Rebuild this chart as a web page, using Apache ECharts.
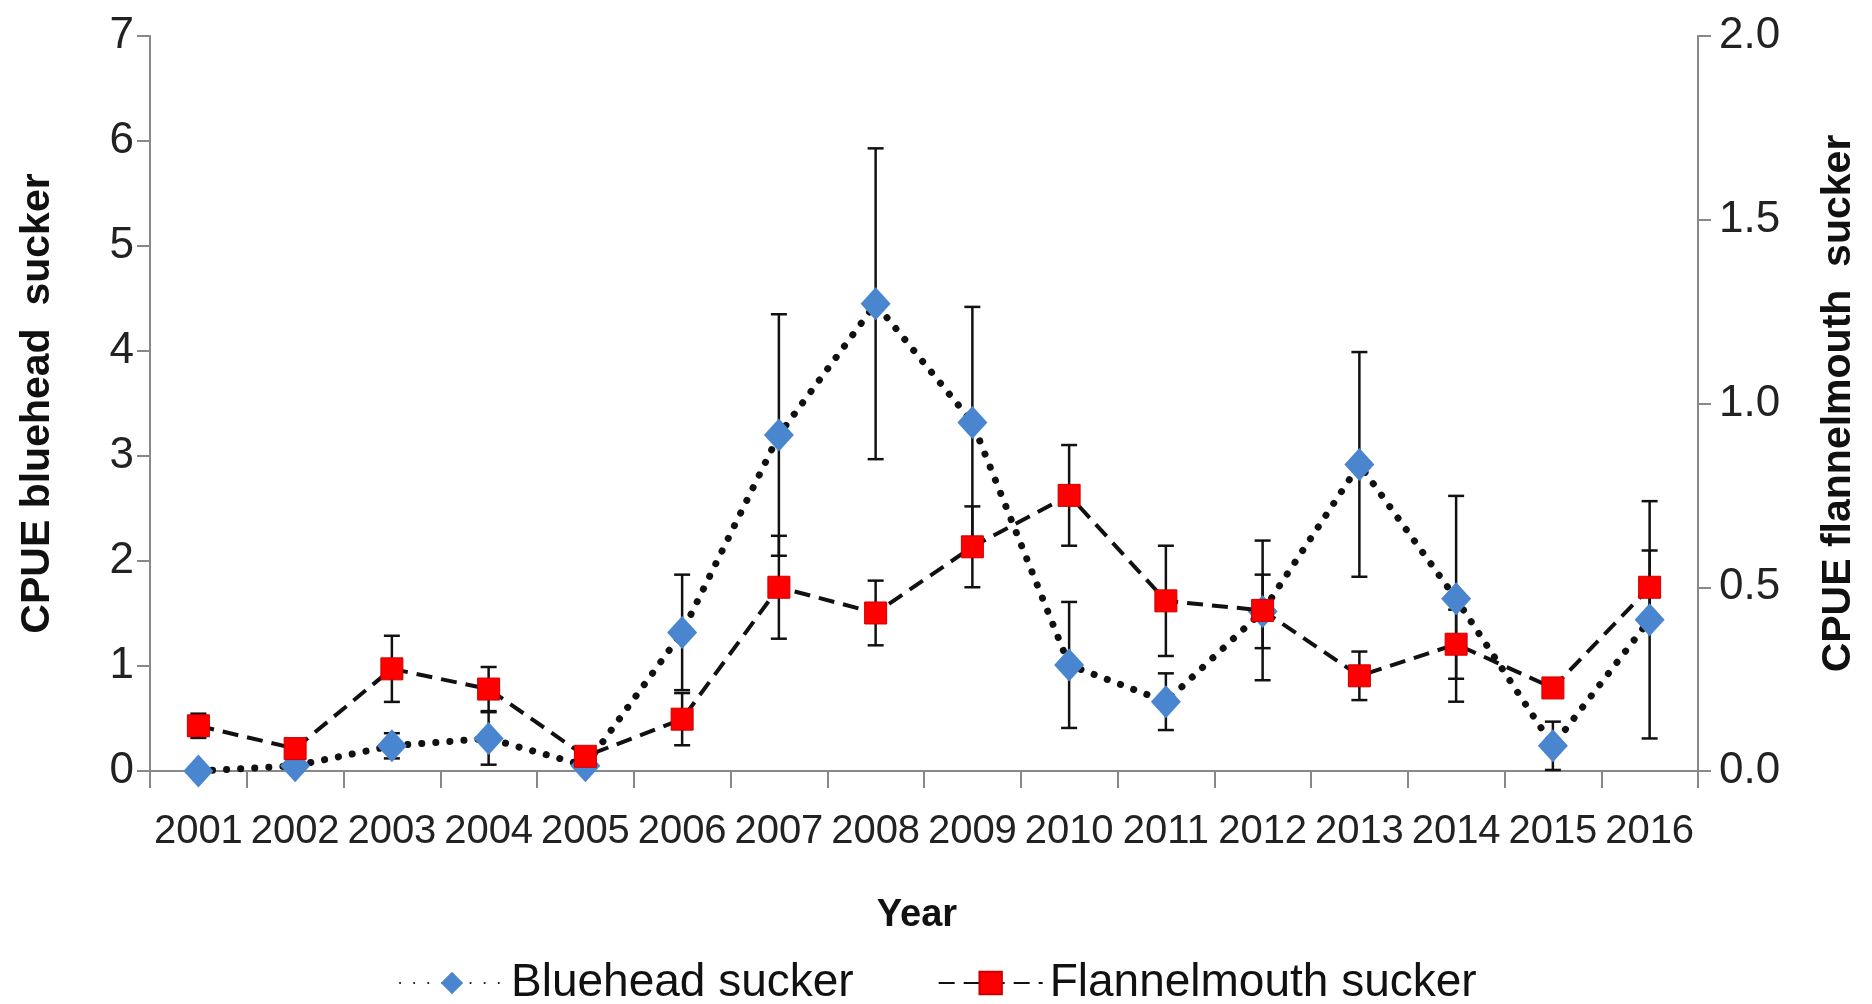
<!DOCTYPE html>
<html>
<head>
<meta charset="utf-8">
<script src="https://cdn.jsdelivr.net/npm/echarts@6/dist/echarts.min.js"></script>
<style>
html,body{margin:0;padding:0;background:#fff;}
#chart{width:1872px;height:1004px;}
</style>
</head>
<body>
<div id="chart"></div>
<script>
const years = ['2001','2002','2003','2004','2005','2006','2007','2008','2009','2010','2011','2012','2013','2014','2015','2016'];
const blueheadCPUE = [0.0, 0.05, 0.24, 0.31, 0.05, 1.32, 3.20, 4.45, 3.32, 1.01, 0.66, 1.52, 2.92, 1.64, 0.24, 1.44];
const blueheadErr  = [0, 0, 0.12, 0.25, 0, 0.55, 1.15, 1.48, 1.10, 0.60, 0.27, 0.35, 1.07, 0.98, 0.23, 1.13];
const flannelCPUE  = [0.123, 0.061, 0.278, 0.223, 0.04, 0.141, 0.50, 0.43, 0.61, 0.75, 0.463, 0.437, 0.259, 0.345, 0.226, 0.50];
const flannelErr   = [0.033, 0, 0.09, 0.06, 0, 0.071, 0.14, 0.088, 0.11, 0.137, 0.15, 0.19, 0.066, 0.094, 0, 0.10];
const leftTicks = {min: 0, max: 7, interval: 1};
const rightTicks = {min: 0, max: 2, interval: 0.5};

const sans = "'Liberation Sans',Arial,sans-serif";

function errData(vals, errs) {
  return vals.map((v, i) => [i, v, errs[i]]);
}
function errRender(params, api) {
  const err = api.value(2);
  if (!err) return null;
  const i = api.value(0), v = api.value(1);
  const top = api.coord([i, v + err]);
  const bot = api.coord([i, Math.max(0, v - err)]);
  const hw = 8;
  const st = {stroke: '#111', lineWidth: 2.5};
  return {
    type: 'group',
    children: [
      {type: 'line', shape: {x1: top[0], y1: top[1], x2: bot[0], y2: bot[1]}, style: st},
      {type: 'line', shape: {x1: top[0]-hw, y1: top[1], x2: top[0]+hw, y2: top[1]}, style: st},
      {type: 'line', shape: {x1: bot[0]-hw, y1: bot[1], x2: bot[0]+hw, y2: bot[1]}, style: st}
    ]
  };
}

const chart = echarts.init(document.getElementById('chart'), null, {renderer: 'canvas'});
chart.setOption({
  animation: false,
  backgroundColor: '#fff',
  grid: {left: 150, right: 174, top: 36, bottom: 233, containLabel: false},
  legend: {
    data: ['Bluehead sucker', 'Flannelmouth sucker'],
    left: 394, top: 955,
    itemWidth: 104, itemHeight: 28, itemGap: 84,
    textStyle: {fontFamily: sans, fontSize: 46, color: '#111', padding: [0,0,0,2]}
  },
  xAxis: {
    type: 'category', data: years, boundaryGap: true,
    name: 'Year', nameLocation: 'middle', nameGap: 126,
    nameTextStyle: {fontFamily: sans, fontWeight: 'bold', fontSize: 38, color: '#111', padding: [0, 14, 0, 0]},
    axisLine: {lineStyle: {color: '#888', width: 2}},
    axisTick: {show: true, length: 17, lineStyle: {color: '#888', width: 2}},
    axisLabel: {fontFamily: sans, fontSize: 40, color: '#222', margin: 41, interval: 0}
  },
  yAxis: [
    {
      type: 'value', position: 'left', min: leftTicks.min, max: leftTicks.max, interval: leftTicks.interval,
      name: 'CPUE bluehead  sucker', nameLocation: 'middle', nameGap: 92, nameRotate: 90,
      nameTextStyle: {fontFamily: sans, fontWeight: 'bold', fontSize: 41, color: '#111'},
      splitLine: {show: false},
      axisLine: {show: true, lineStyle: {color: '#888', width: 2}},
      axisTick: {show: true, length: 13, lineStyle: {color: '#888', width: 2}},
      axisLabel: {fontFamily: sans, fontSize: 44, color: '#222', margin: 16}
    },
    {
      type: 'value', position: 'right', min: rightTicks.min, max: rightTicks.max, interval: rightTicks.interval,
      name: 'CPUE flannelmouth  sucker', nameLocation: 'middle', nameGap: 120, nameRotate: 90,
      nameTextStyle: {fontFamily: sans, fontWeight: 'bold', fontSize: 41, color: '#111'},
      splitLine: {show: false},
      axisLine: {show: true, lineStyle: {color: '#888', width: 2}},
      axisTick: {show: true, length: 13, lineStyle: {color: '#888', width: 2}},
      axisLabel: {fontFamily: sans, fontSize: 44, color: '#222', margin: 21, formatter: v => v.toFixed(1)}
    }
  ],
  series: [
    {
      type: 'custom', name: 'blueErr', yAxisIndex: 0, data: errData(blueheadCPUE, blueheadErr),
      renderItem: errRender, z: 1, silent: true
    },
    {
      type: 'custom', name: 'flannelErr', yAxisIndex: 1, data: errData(flannelCPUE, flannelErr),
      renderItem: errRender, z: 1, silent: true
    },
    {
      name: 'Bluehead sucker', type: 'line', yAxisIndex: 0, data: blueheadCPUE,
      symbol: 'diamond', symbolSize: [30, 33],
      itemStyle: {color: '#4a86cf'},
      lineStyle: {color: '#111', width: 7, type: [0.1, 14], cap: 'round'},
      z: 3
    },
    {
      name: 'Flannelmouth sucker', type: 'line', yAxisIndex: 1, data: flannelCPUE,
      symbol: 'rect', symbolSize: 22,
      itemStyle: {color: '#f00', borderColor: '#c00', borderWidth: 1},
      lineStyle: {color: '#111', width: 4, type: [16, 9]},
      z: 4
    }
  ]
});
</script>
</body>
</html>
